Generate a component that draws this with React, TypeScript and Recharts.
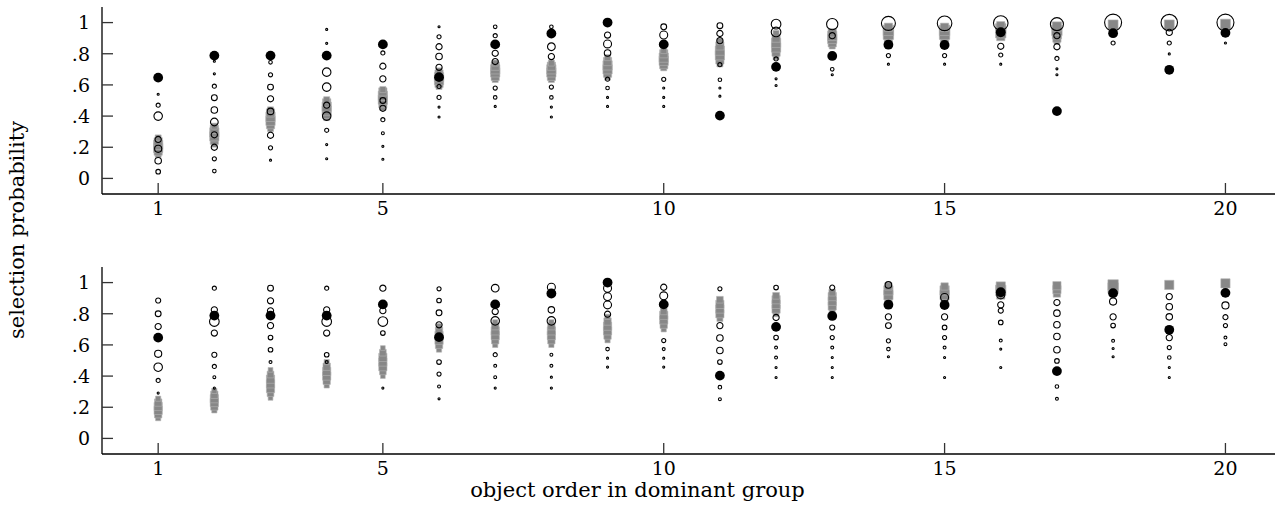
// Two-panel selection probability plot: open circles = simulated choices (size = weight),
// gray squares = model predictions, black dots = observed proportions
import React from "react";
import { ScatterChart, Scatter, XAxis, YAxis, ZAxis } from "recharts";

const xTicks = [1, 5, 10, 15, 20];
const yTicks = [0, 0.2, 0.4, 0.6, 0.8, 1];
const yTickText: Record<string, string> = { "0": "0", "0.2": ".2", "0.4": ".4", "0.6": ".6", "0.8": ".8", "1": "1" };

// observed proportion per object order (same in both panels)
const observed = [0.647, 0.788, 0.788, 0.788, 0.86, 0.65, 0.86, 0.93, 1.0, 0.86, 0.403, 0.716, 0.786, 0.858, 0.856, 0.938, 0.432, 0.932, 0.697, 0.934];

type Pt = [number, number, number]; // [object order, probability, weight]

const topOpen: Pt[] = [
  [1, .54, 1], [1, .47, 4], [1, .40, 17], [1, .25, 9], [1, .19, 12], [1, .113, 10], [1, .043, 5],
  [2, .752, 1], [2, .671, 1], [2, .592, 4], [2, .518, 8], [2, .439, 10], [2, .362, 14], [2, .28, 9], [2, .20, 9], [2, .126, 4], [2, .047, 3],
  [3, .745, 3], [3, .665, 4], [3, .586, 8], [3, .511, 9], [3, .43, 10], [3, .277, 9], [3, .196, 4], [3, .117, 1],
  [4, .956, 1], [4, .867, 1], [4, .682, 17], [4, .586, 17], [4, .47, 9], [4, .40, 17], [4, .309, 4], [4, .217, 1], [4, .126, 1],
  [5, .805, 4], [5, .72, 9], [5, .639, 9], [5, .50, 8], [5, .45, 9], [5, .377, 4], [5, .29, 2], [5, .206, 1], [5, .123, 1],
  [6, .973, 1], [6, .909, 4], [6, .845, 9], [6, .782, 10], [6, .713, 9], [6, .59, 4], [6, .52, 4], [6, .458, 1], [6, .394, 1],
  [7, .973, 3], [7, .916, 4], [7, .803, 9], [7, .75, 9], [7, .58, 4], [7, .52, 3], [7, .462, 1],
  [8, .973, 3], [8, .845, 14], [8, .782, 9], [8, .586, 4], [8, .52, 3], [8, .458, 1], [8, .394, 1],
  [9, .92, 9], [9, .863, 15], [9, .805, 10], [9, .637, 4], [9, .58, 3], [9, .52, 1], [9, .462, 1],
  [10, .973, 8], [10, .92, 15], [10, .636, 4], [10, .58, 1], [10, .52, 1], [10, .462, 1],
  [11, .98, 8], [11, .93, 9], [11, .884, 9], [11, .73, 4], [11, .633, 3], [11, .58, 1], [11, .528, 1],
  [12, .99, 22], [12, .94, 22], [12, .767, 4], [12, .639, 1], [12, .596, 1],
  [13, .99, 30], [13, .916, 9], [13, .70, 3], [13, .665, 1],
  [14, .995, 46], [14, .788, 4], [14, .733, 1],
  [15, .995, 50], [15, .788, 4], [15, .733, 1],
  [16, .997, 50], [16, .848, 9], [16, .792, 4], [16, .733, 1],
  [17, .99, 40], [17, .916, 9], [17, .845, 9], [17, .77, 4], [17, .703, 1], [17, .665, 1],
  [18, 1.0, 68], [18, .869, 4],
  [19, 1.0, 64], [19, .937, 9], [19, .869, 4], [19, .799, 1],
  [20, 1.0, 68], [20, .869, 1],
];

const topGray: Pt[] = [
  [1, .155, 8], [1, .175, 15], [1, .195, 19], [1, .215, 19], [1, .235, 15], [1, .26, 8],
  [2, .22, 8], [2, .245, 15], [2, .27, 19], [2, .295, 19], [2, .315, 15], [2, .335, 8],
  [3, .32, 8], [3, .345, 15], [3, .37, 19], [3, .395, 19], [3, .42, 15], [3, .44, 8],
  [4, .39, 8], [4, .41, 15], [4, .435, 19], [4, .46, 19], [4, .485, 15], [4, .505, 8],
  [5, .455, 8], [5, .48, 15], [5, .505, 19], [5, .53, 19], [5, .555, 15], [5, .57, 8],
  [6, .59, 8], [6, .61, 15], [6, .63, 19], [6, .65, 19], [6, .67, 15], [6, .69, 8],
  [7, .635, 8], [7, .655, 15], [7, .68, 19], [7, .70, 19], [7, .72, 15], [7, .74, 8],
  [8, .635, 8], [8, .655, 15], [8, .68, 19], [8, .70, 19], [8, .72, 15], [8, .74, 8],
  [9, .65, 8], [9, .675, 15], [9, .70, 19], [9, .725, 19], [9, .75, 15], [9, .775, 8],
  [10, .71, 8], [10, .73, 15], [10, .755, 19], [10, .775, 19], [10, .80, 15], [10, .82, 8],
  [11, .735, 8], [11, .76, 15], [11, .79, 19], [11, .82, 19], [11, .85, 15], [11, .88, 8],
  [12, .78, 8], [12, .81, 15], [12, .84, 19], [12, .87, 19], [12, .90, 15], [12, .93, 8],
  [13, .85, 8], [13, .87, 15], [13, .895, 19], [13, .915, 19], [13, .935, 15],
  [14, .90, 15], [14, .925, 24], [14, .95, 24], [14, .97, 15],
  [15, .90, 15], [15, .925, 24], [15, .95, 24], [15, .97, 15],
  [16, .91, 15], [16, .935, 24], [16, .96, 24], [16, .98, 15],
  [17, .88, 8], [17, .90, 15], [17, .925, 19], [17, .95, 24], [17, .975, 19],
  [18, .985, 22], [19, .985, 22], [20, .99, 22],
];

const bottomOpen: Pt[] = [
  [1, .885, 6], [1, .80, 8], [1, .718, 9], [1, .543, 12], [1, .457, 17], [1, .372, 4], [1, .291, 1],
  [2, .964, 4], [2, .825, 9], [2, .75, 22], [2, .676, 9], [2, .537, 6], [2, .462, 4], [2, .393, 2], [2, .323, 1],
  [3, .964, 8], [3, .883, 9], [3, .819, 9], [3, .724, 9], [3, .647, 5], [3, .569, 5], [3, .49, 2],
  [4, .964, 4], [4, .825, 9], [4, .75, 22], [4, .676, 9], [4, .537, 5], [4, .49, 2],
  [5, .964, 9], [5, .82, 9], [5, .75, 22], [5, .676, 5], [5, .323, 1],
  [6, .96, 4], [6, .885, 5], [6, .806, 8], [6, .729, 9], [6, .49, 5], [6, .413, 4], [6, .333, 2], [6, .254, 1],
  [7, .964, 14], [7, .814, 9], [7, .754, 17], [7, .537, 4], [7, .466, 2], [7, .393, 2], [7, .323, 1],
  [8, .97, 15], [8, .825, 10], [8, .754, 17], [8, .537, 2], [8, .466, 2], [8, .393, 1], [8, .323, 1],
  [9, .964, 15], [9, .91, 15], [9, .857, 15], [9, .797, 9], [9, .573, 3], [9, .515, 1], [9, .458, 1],
  [10, .97, 9], [10, .915, 15], [10, .628, 4], [10, .573, 2], [10, .515, 1], [10, .458, 1],
  [11, .96, 4], [11, .724, 9], [11, .644, 10], [11, .564, 10], [11, .49, 5], [11, .329, 3], [11, .252, 2],
  [12, .968, 5], [12, .776, 9], [12, .647, 5], [12, .583, 2], [12, .519, 2], [12, .455, 1], [12, .391, 1],
  [13, .968, 6], [13, .712, 6], [13, .647, 4], [13, .583, 2], [13, .519, 1], [13, .455, 1], [13, .391, 1],
  [14, .985, 10], [14, .78, 9], [14, .724, 8], [14, .626, 4], [14, .573, 3], [14, .524, 1],
  [15, .904, 15], [15, .78, 9], [15, .712, 5], [15, .647, 4], [15, .583, 2], [15, .519, 1], [15, .391, 1],
  [16, .921, 15], [16, .857, 9], [16, .82, 6], [16, .744, 5], [16, .628, 2], [16, .573, 1], [16, .455, 1],
  [17, .872, 9], [17, .804, 10], [17, .729, 10], [17, .654, 10], [17, .569, 10], [17, .497, 5], [17, .333, 3], [17, .254, 2],
  [18, .878, 12], [18, .78, 9], [18, .724, 5], [18, .626, 2], [18, .577, 1], [18, .524, 1],
  [19, .91, 9], [19, .845, 10], [19, .78, 10], [19, .647, 9], [19, .583, 4], [19, .519, 3], [19, .455, 1], [19, .391, 1],
  [20, .853, 12], [20, .778, 6], [20, .724, 4], [20, .647, 2], [20, .605, 2],
];

const bottomGray: Pt[] = [
  [1, .13, 6], [1, .155, 12], [1, .18, 15], [1, .205, 15], [1, .23, 12], [1, .255, 6],
  [2, .18, 6], [2, .205, 12], [2, .23, 15], [2, .255, 15], [2, .28, 12], [2, .305, 6],
  [3, .26, 5], [3, .29, 10], [3, .32, 15], [3, .35, 15], [3, .38, 15], [3, .41, 10], [3, .44, 5],
  [4, .34, 6], [4, .37, 12], [4, .40, 15], [4, .43, 15], [4, .46, 12], [4, .49, 6],
  [5, .40, 5], [5, .43, 10], [5, .46, 15], [5, .49, 15], [5, .52, 15], [5, .55, 10], [5, .58, 5],
  [6, .57, 6], [6, .60, 12], [6, .63, 15], [6, .66, 15], [6, .69, 12], [6, .72, 6],
  [7, .60, 6], [7, .63, 12], [7, .66, 15], [7, .69, 15], [7, .72, 12], [7, .745, 6],
  [8, .60, 6], [8, .63, 12], [8, .66, 15], [8, .69, 15], [8, .72, 12], [8, .745, 6],
  [9, .63, 6], [9, .66, 12], [9, .69, 15], [9, .72, 15], [9, .75, 12], [9, .78, 6],
  [10, .70, 6], [10, .73, 12], [10, .76, 15], [10, .79, 15], [10, .815, 10],
  [11, .77, 8], [11, .80, 15], [11, .83, 15], [11, .86, 15], [11, .89, 10],
  [12, .80, 8], [12, .83, 15], [12, .86, 15], [12, .89, 15], [12, .915, 10],
  [13, .82, 8], [13, .85, 15], [13, .88, 15], [13, .91, 15], [13, .935, 10],
  [14, .89, 12], [14, .92, 19], [14, .95, 19], [14, .975, 12],
  [15, .89, 12], [15, .92, 19], [15, .95, 19], [15, .975, 12],
  [16, .92, 15], [16, .95, 24], [16, .975, 19],
  [17, .93, 12], [17, .955, 15], [17, .98, 15],
  [18, .965, 24], [18, .985, 24],
  [19, .985, 19], [20, .995, 19],
];

const rows = (pts: Pt[]) => pts.map(([x, y, w]) => ({ x, y, w }));
const observedRows = observed.map((y, i) => ({ x: i + 1, y }));

const FONT = "'DejaVu Serif', serif";
const INK = "#000";
const TICK = 11;

// ticks point inwards, labels sit outside
const XTick = (p: any) => (
  <g>
    <line x1={p.x} x2={p.x} y1={p.y} y2={p.y + p.dir * TICK} stroke="#333" strokeWidth={1.3} />
    {p.label && (
      <text x={p.x} y={p.y + 21} textAnchor="middle" fontFamily={FONT} fontSize={19} fill={INK}>
        {p.payload.value}
      </text>
    )}
  </g>
);

const YTick = (p: any) => (
  <g>
    <line x1={p.x} x2={p.x + p.dir * TICK} y1={p.y} y2={p.y} stroke="#333" strokeWidth={1.3} />
    {p.label && (
      <text x={p.x - 12} y={p.y} dy="0.36em" textAnchor="end" fontFamily={FONT} fontSize={19} fill={INK}>
        {yTickText[String(p.payload.value)]}
      </text>
    )}
  </g>
);

const BlackDot = (p: any) => <circle cx={p.cx} cy={p.cy} r={4.9} fill="#000" />;

function Panel({ open, gray, top, height, xHeight }: { open: Pt[]; gray: Pt[]; top: number; height: number; xHeight: number }) {
  const axisLine = { stroke: INK, strokeWidth: 1.3 };
  return (
    <div style={{ position: "absolute", left: 0, top }}>
      <ScatterChart width={1276} height={height} margin={{ top: 7, right: 0, bottom: 0, left: 0 }}>
        <XAxis xAxisId="b" type="number" dataKey="x" domain={[0, 20.9]} ticks={xTicks} interval={0}
          tickLine={false} tickSize={0} tickMargin={0} height={xHeight} axisLine={axisLine}
          tick={(p: any) => <XTick {...p} dir={-1} label />} allowDataOverflow />
        <XAxis xAxisId="t" orientation="top" type="number" dataKey="x" domain={[0, 20.9]} ticks={xTicks} interval={0}
          tickLine={false} tickSize={0} tickMargin={0} height={0} axisLine={axisLine}
          tick={(p: any) => <XTick {...p} dir={1} />} allowDataOverflow />
        <YAxis yAxisId="l" type="number" dataKey="y" domain={[-0.1, 1.1]} ticks={yTicks} interval={0}
          tickLine={false} tickSize={0} tickMargin={0} width={102} axisLine={axisLine}
          tick={(p: any) => <YTick {...p} dir={1} label />} allowDataOverflow />
        <YAxis yAxisId="r" orientation="right" type="number" dataKey="y" domain={[-0.1, 1.1]} ticks={yTicks} interval={0}
          tickLine={false} tickSize={0} tickMargin={0} width={0} axisLine={axisLine}
          tick={(p: any) => <YTick {...p} dir={-1} />} allowDataOverflow />
        <ZAxis zAxisId="w" type="number" dataKey="w" domain={[0, 80]} range={[0, 267]} />
        <ZAxis zAxisId="g" type="number" dataKey="w" domain={[0, 80]} range={[0, 360]} />
        <Scatter xAxisId="b" yAxisId="l" zAxisId="g" data={rows(gray)} shape="square"
          fill="#878787" stroke="#b4b4b4" strokeWidth={0.6} isAnimationActive={false} />
        <Scatter xAxisId="b" yAxisId="l" zAxisId="w" data={rows(open)} shape="circle"
          fill="none" stroke="#000" strokeWidth={1.1} isAnimationActive={false} />
        <Scatter xAxisId="t" yAxisId="r" data={observedRows} shape={BlackDot} isAnimationActive={false} />
      </ScatterChart>
    </div>
  );
}

export default function App() {
  return (
    <div style={{ position: "fixed", left: 0, top: 0, width: 1275, height: 508, overflow: "hidden", background: "#fff" }}>
      <Panel open={topOpen} gray={topGray} top={0} height={224} xHeight={30} />
      <Panel open={bottomOpen} gray={bottomGray} top={260} height={248} xHeight={54} />
      <div style={{ position: "absolute", left: 17 - 130, top: 230 - 13, width: 260, height: 26, lineHeight: "26px",
        textAlign: "center", transform: "rotate(-90deg)", fontFamily: FONT, fontSize: 21, color: INK }}>
        selection probability
      </div>
      <div style={{ position: "absolute", left: 0, top: 478, width: 1275, lineHeight: "24px", textAlign: "center",
        fontFamily: FONT, fontSize: 21, color: INK }}>
        object order in dominant group
      </div>
    </div>
  );
}
